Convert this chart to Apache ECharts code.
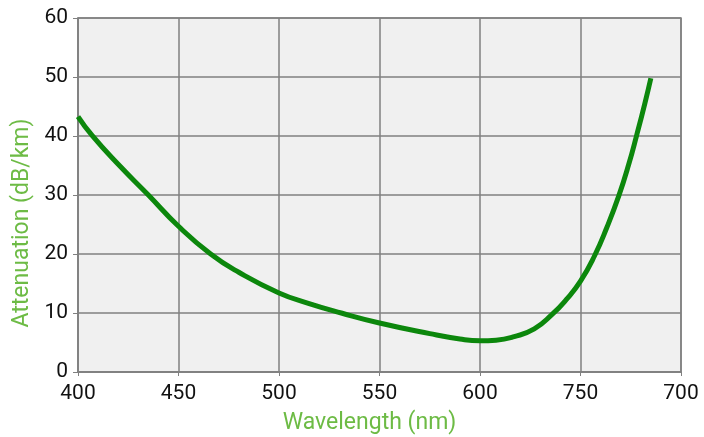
<!DOCTYPE html>
<html>
<head>
<meta charset="utf-8">
<script src="https://cdn.jsdelivr.net/npm/echarts@6/dist/echarts.min.js"></script>
<style>
    html, body { margin: 0; padding: 0; background: #fff; }
    #attenuation { width: 704px; height: 437px; }
</style>
</head>
<body>
<div id="attenuation"></div>
<script>
// wavelength (nm) and attenuation (dB/km)
const wavelength = [400, 407, 420, 435, 450, 466, 480, 500, 515, 531, 550, 575, 590, 600, 608, 617, 627, 636, 643, 650, 657, 663, 669, 674, 678, 682, 685]
const attenuation = [43.3, 40.1, 35.2, 30, 24.7, 20, 16.9, 13.4, 11.6, 10, 8.3, 6.5, 5.6, 5.3, 5.4, 6.0, 7.3, 9.8, 12.3, 15.4, 19.7, 24.4, 29.8, 35.2, 40.2, 45.5, 49.8]
// tick labels as printed (the 650 tick reads "750" in the original)
const xTickLabels = ['400', '450', '500', '550', '600', '750', '700']

const font = "'Roboto', sans-serif"
const gridColor = '#808080'

let myChart = echarts.init(document.getElementById('attenuation'))

let option = {
    animation: false,
    grid: {
        left: 78,
        right: 23,
        top: 18,
        bottom: 65,
        outerBoundsMode: 'none',
        show: true,
        backgroundColor: '#f0f0f0',
        borderColor: gridColor,
        borderWidth: 1.5
    },
    xAxis: {
        type: 'value',
        min: 400,
        max: 700,
        interval: 50,
        name: 'Wavelength (nm)',
        nameLocation: 'middle',
        nameGap: 40,
        nameTextStyle: { color: '#6dbb45', fontSize: 23, fontFamily: font, padding: [0, 20, 0, 0] },
        axisLine: { show: true, lineStyle: { color: gridColor, width: 1.5 } },
        axisTick: { show: true, length: 4, lineStyle: { color: gridColor } },
        axisLabel: {
            color: '#111',
            fontSize: 21,
            fontFamily: font,
            margin: 11,
            formatter: function (v) {
                return xTickLabels[Math.round((v - 400) / 50)]
            }
        },
        splitLine: { show: true, lineStyle: { color: gridColor, width: 1.5 } }
    },
    yAxis: {
        type: 'value',
        min: 0,
        max: 60,
        interval: 10,
        name: 'Attenuation (dB/km)',
        nameLocation: 'middle',
        nameGap: 43,
        nameTextStyle: { color: '#6dbb45', fontSize: 23, fontFamily: font, padding: [0, 56, 0, 0] },
        axisLine: { show: true, lineStyle: { color: gridColor, width: 1.5 } },
        axisTick: { show: true, length: 5, lineStyle: { color: gridColor } },
        axisLabel: { color: '#111', fontSize: 21, fontFamily: font, margin: 10 },
        splitLine: { show: true, lineStyle: { color: gridColor, width: 1.5 } }
    },
    series: [{
        type: 'line',
        smooth: 0.5,
        showSymbol: false,
        data: wavelength.map((w, i) => [w, attenuation[i]]),
        lineStyle: { color: '#0c870c', width: 5 }
    }]
}
myChart.setOption(option)
</script>
</body>
</html>
